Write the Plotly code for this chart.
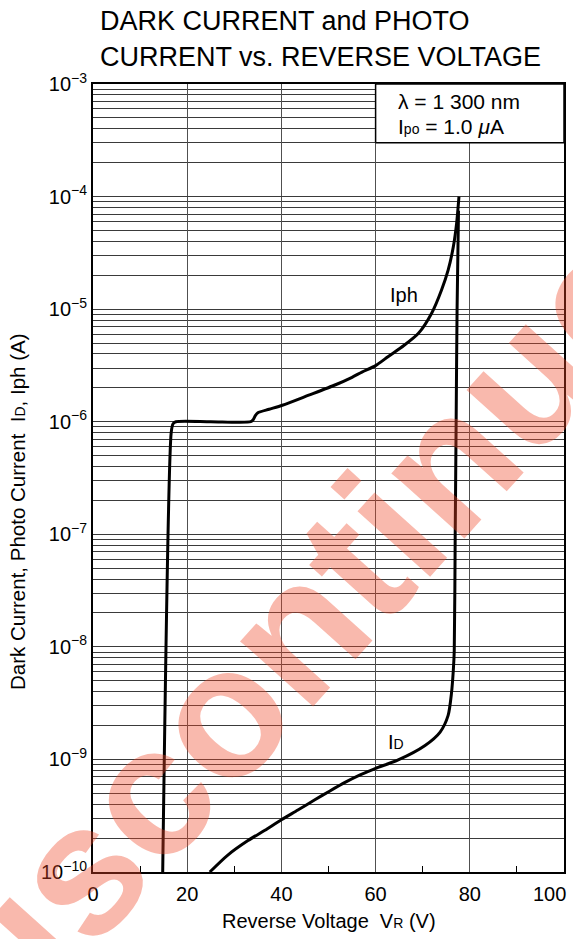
import numpy as np
import plotly.graph_objects as go

# ---- data ----
iph_v = [14.8, 16.6, 17.0, 17.6, 25.0, 33.5, 34.0, 34.5, 35.0, 37.4, 40.2, 45.8,
         51.5, 55.0, 57.1, 60.0, 62.7, 66.0, 69.1, 71.9, 74.0, 75.4, 76.5, 77.2, 77.7]
iph_i = [1e-10, 8e-7, 9.6e-7, 1e-6, 1e-6, 1e-6, 1.04e-6, 1.14e-6, 1.2e-6, 1.29e-6,
         1.4e-6, 1.72e-6, 2.13e-6, 2.48e-6, 2.76e-6, 3.15e-6, 3.8e-6, 4.75e-6, 6.1e-6,
         9.2e-6, 1.48e-5, 2.22e-5, 3.58e-5, 5.78e-5, 1e-4]

id_v = [24.8, 28.5, 32.9, 36.5, 40.0, 43.5, 47.1, 50.3, 53.5, 56.6, 59.9, 64.8,
        70.5, 73.7, 75.4, 76.1, 76.5, 76.7, 76.9, 77.1, 77.3, 77.6]
id_i = [1e-10, 1.4e-10, 1.9e-10, 2.35e-10, 2.91e-10, 3.55e-10, 4.38e-10, 5.25e-10,
        6.25e-10, 7.25e-10, 8.3e-10, 9.9e-10, 1.33e-9, 1.75e-9, 2.46e-9, 3.84e-9,
        6.2e-9, 9.3e-9, 1e-7, 1e-6, 1e-5, 7.5e-5]

x_ticks = [0, 20, 40, 60, 80]
x_tick_text = ["0", "20", "40", "60", "80"]
x_last_tick = 100
x_last_text = "100"
x_minor = [10, 30, 50, 70, 90]
y_exps = [-10, -9, -8, -7, -6, -5, -4, -3]

box_v = [60, 100, 100, 60, 60]
box_i = [3e-4, 3e-4, 1e-3, 1e-3, 3e-4]

FONT = "Liberation Sans, Arial, sans-serif"

y_tickvals = [10.0 ** e for e in y_exps]
y_ticktext = ["10<sup>\u2212%d</sup>" % (-e) for e in y_exps]
y_minor = [k * 10.0 ** e for e in y_exps[:-1] for k in range(2, 10)]

fig = go.Figure()
fig.add_trace(go.Scatter(x=box_v, y=box_i, mode="lines", fill="toself",
                         fillcolor="white", line=dict(color="black", width=1.5),
                         hoverinfo="skip", showlegend=False))
fig.add_trace(go.Scatter(x=iph_v, y=iph_i, mode="lines",
                         line=dict(color="black", width=3, shape="spline", smoothing=0.7),
                         showlegend=False))
fig.add_trace(go.Scatter(x=id_v, y=id_i, mode="lines",
                         line=dict(color="black", width=3, shape="spline", smoothing=0.7),
                         showlegend=False))

fig.update_layout(
    width=573, height=939, autosize=False,
    margin=dict(l=93, r=9, t=84, b=67, autoexpand=False),
    paper_bgcolor="white", plot_bgcolor="white",
    font=dict(family=FONT, color="black", size=20),
    xaxis=dict(range=[0, 100], tickvals=x_ticks, ticktext=x_tick_text,
               showgrid=True, gridcolor="#505050", gridwidth=1,
               showline=True, linecolor="black", linewidth=2, mirror=True,
               ticks="", zeroline=False, tickfont=dict(size=20),
               ticklabelstandoff=3, ticklabeloverflow="allow", automargin=False,
               minor=dict(tickvals=x_minor, ticks="inside", ticklen=6,
                          tickcolor="black", tickwidth=1, showgrid=False)),
    yaxis=dict(type="log", range=[-10, -3], tickvals=y_tickvals, ticktext=y_ticktext,
               showgrid=True, gridcolor="#3a3a3a", gridwidth=1,
               showline=True, linecolor="black", linewidth=2, mirror=True,
               ticks="", zeroline=False, tickfont=dict(size=20),
               ticklabeloverflow="allow", automargin=False,
               minor=dict(tickvals=y_minor, ticks="", showgrid=True,
                          gridcolor="#3a3a3a", gridwidth=1)),
)

def px2paper(px, py):
    return (px - 93) / 471.0, 1 - (py - 84) / 788.0

ann = []
# last x tick label (kept inside the page edge, as in the reference)
_, yp = px2paper(0, 894)
ann.append(dict(text=x_last_text, xref="x", yref="paper", x=x_last_tick, y=yp,
                xanchor="right", yanchor="middle", xshift=4, showarrow=False,
                font=dict(size=20, family=FONT)))
# title
for txt, py in [("DARK CURRENT and PHOTO", 21), ("CURRENT vs. REVERSE VOLTAGE", 57)]:
    xp, yp = px2paper(98, py)
    ann.append(dict(text=txt, xref="paper", yref="paper", x=xp, y=yp,
                    xanchor="left", yanchor="middle", showarrow=False,
                    font=dict(size=27, family=FONT)))
# axis titles
xp, yp = px2paper(329, 921)
ann.append(dict(text="Reverse Voltage\u00a0\u00a0V<span style='font-size:14px'>R</span> (V)",
                xref="paper", yref="paper", x=xp, y=yp, showarrow=False,
                xanchor="center", yanchor="middle", font=dict(size=20, family=FONT)))
xp, yp = px2paper(18, 512)
ann.append(dict(text="Dark Current, Photo Current\u00a0\u00a0I<span style='font-size:14px'>D</span>, Iph (A)",
                xref="paper", yref="paper", x=xp, y=yp, showarrow=False, textangle=-90,
                xanchor="center", yanchor="middle", font=dict(size=20.5, family=FONT)))
# box text
ann.append(dict(text="\u03bb = 1 300 nm", xref="x", yref="y", x=64.4, y=-3.157,
                xanchor="left", yanchor="middle", showarrow=False,
                font=dict(size=21, family=FONT)))
ann.append(dict(text="I<span style='font-size:14px'>po</span> = 1.0 <i>\u03bc</i>A",
                xref="x", yref="y", x=64.4, y=-3.379,
                xanchor="left", yanchor="middle", showarrow=False,
                font=dict(size=21, family=FONT)))
# curve labels
ann.append(dict(text="Iph", xref="x", yref="y", x=66.0, y=-4.871, showarrow=False,
                font=dict(size=20, family=FONT)))
ann.append(dict(text="I<span style='font-size:14px'>D</span>", xref="x", yref="y",
                x=64.4, y=-8.849, showarrow=False, font=dict(size=20, family=FONT)))
# watermark
xp, yp = px2paper(312, 612)
ann.append(dict(text="<b>Discontinued</b>", xref="paper", yref="paper", x=xp, y=yp,
                showarrow=False, textangle=-48, xanchor="center", yanchor="middle",
                font=dict(size=185, family=FONT, color="rgba(238,70,40,0.38)")))

fig.update_layout(annotations=ann)
fig.write_html("out.html", config={"displayModeBar": False},
               post_script="document.body.style.margin='0px';")
